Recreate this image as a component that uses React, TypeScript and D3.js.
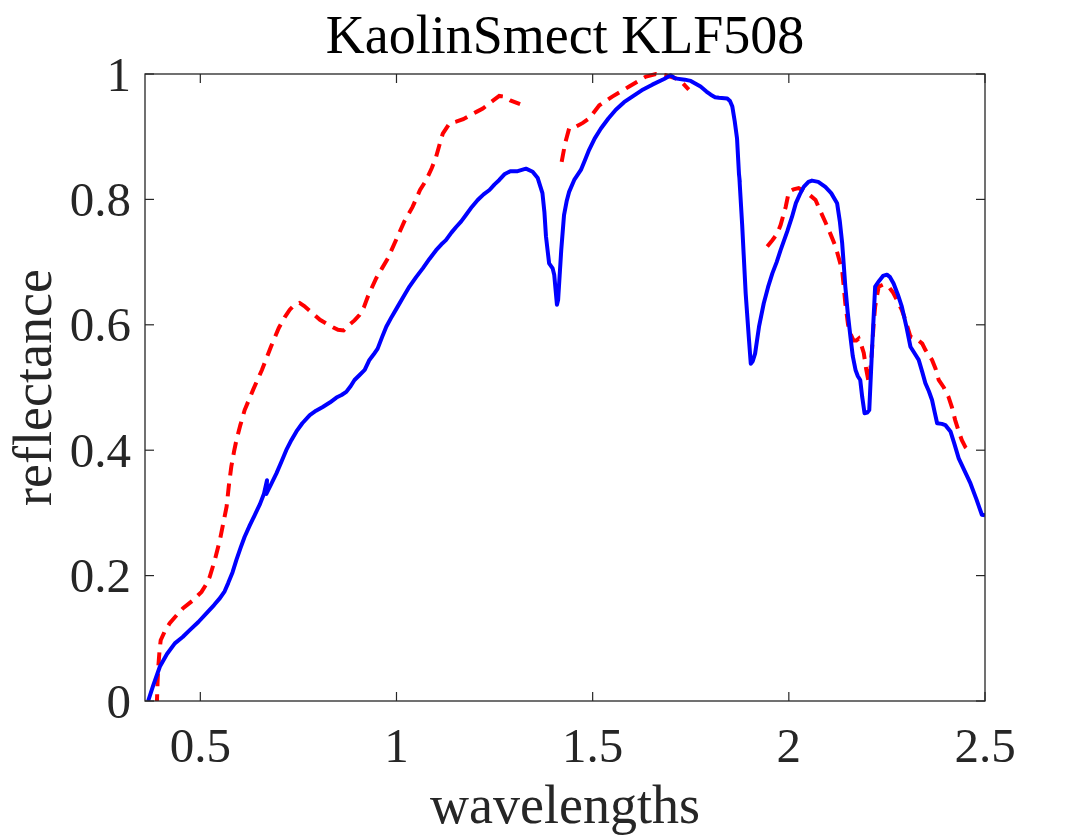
import React from 'react';
import * as d3 from 'd3';

const blueWl = [0.367,0.380,0.397,0.415,0.435,0.455,0.473,0.495,0.516,0.535,0.550,0.562,0.571,0.582,0.592,0.603,0.613,0.626,0.639,0.652,0.662,0.670,0.668,0.680,0.694,0.707,0.719,0.732,0.745,0.760,0.779,0.795,0.812,0.830,0.847,0.860,0.872,0.883,0.893,0.906,0.919,0.931,0.942,0.952,0.963,0.974,0.988,1.003,1.018,1.033,1.050,1.067,1.084,1.101,1.114,1.126,1.140,1.152,1.165,1.177,1.192,1.207,1.222,1.237,1.250,1.262,1.275,1.290,1.309,1.330,1.347,1.360,1.372,1.377,1.381,1.389,1.398,1.402,1.409,1.412,1.420,1.427,1.434,1.440,1.453,1.470,1.480,1.491,1.505,1.521,1.540,1.559,1.580,1.601,1.625,1.652,1.682,1.699,1.710,1.735,1.750,1.775,1.790,1.801,1.812,1.822,1.843,1.850,1.856,1.862,1.868,1.873,1.875,1.874,1.881,1.890,1.898,1.903,1.908,1.914,1.924,1.936,1.947,1.958,1.969,1.979,1.996,2.008,2.018,2.028,2.038,2.050,2.059,2.075,2.093,2.108,2.123,2.130,2.136,2.144,2.150,2.157,2.163,2.170,2.176,2.182,2.187,2.193,2.200,2.205,2.212,2.220,2.230,2.240,2.250,2.258,2.267,2.278,2.288,2.300,2.310,2.320,2.331,2.340,2.348,2.357,2.365,2.372,2.378,2.390,2.399,2.412,2.422,2.433,2.448,2.463,2.478,2.492,2.500];
const blueRefl = [0.0,0.025,0.055,0.075,0.092,0.102,0.113,0.126,0.140,0.153,0.164,0.175,0.188,0.205,0.225,0.245,0.262,0.280,0.297,0.314,0.330,0.352,0.330,0.345,0.363,0.382,0.400,0.416,0.430,0.443,0.456,0.463,0.469,0.476,0.484,0.488,0.493,0.502,0.512,0.520,0.528,0.544,0.553,0.562,0.580,0.597,0.613,0.629,0.645,0.661,0.676,0.690,0.705,0.719,0.728,0.735,0.747,0.756,0.765,0.775,0.788,0.799,0.808,0.815,0.824,0.831,0.840,0.845,0.845,0.849,0.844,0.834,0.810,0.780,0.741,0.698,0.690,0.680,0.632,0.640,0.720,0.775,0.798,0.812,0.831,0.847,0.862,0.879,0.897,0.913,0.929,0.943,0.955,0.964,0.974,0.983,0.992,0.998,0.993,0.991,0.989,0.980,0.972,0.967,0.963,0.962,0.961,0.957,0.948,0.925,0.897,0.840,0.828,0.834,0.760,0.650,0.580,0.538,0.542,0.554,0.597,0.634,0.660,0.682,0.700,0.719,0.749,0.772,0.794,0.808,0.820,0.828,0.830,0.828,0.820,0.810,0.794,0.765,0.730,0.661,0.620,0.581,0.550,0.528,0.518,0.512,0.485,0.459,0.460,0.464,0.560,0.661,0.670,0.678,0.680,0.676,0.666,0.648,0.629,0.596,0.565,0.555,0.544,0.525,0.507,0.494,0.480,0.460,0.443,0.442,0.440,0.430,0.410,0.387,0.367,0.347,0.322,0.297,0.296];

const redWl = [0.389,0.391,0.393,0.396,0.399,0.410,0.422,0.440,0.456,0.480,0.503,0.514,0.524,0.537,0.550,0.559,0.567,0.573,0.579,0.586,0.592,0.602,0.613,0.635,0.657,0.680,0.700,0.715,0.728,0.740,0.753,0.765,0.787,0.805,0.821,0.838,0.851,0.865,0.880,0.893,0.906,0.917,0.927,0.948,0.963,0.978,1.003,1.020,1.041,1.060,1.076,1.090,1.101,1.110,1.118,1.135,1.152,1.170,1.190,1.205,1.220,1.245,1.262,1.275,1.290,1.315,1.37,1.421,1.430,1.440,1.457,1.475,1.491,1.517,1.550,1.593,1.636,1.661,1.686,1.712,1.730,1.745,1.85,1.945,1.958,1.970,1.979,1.992,2.000,2.012,2.025,2.043,2.055,2.068,2.080,2.093,2.106,2.119,2.128,2.136,2.144,2.151,2.157,2.165,2.172,2.178,2.185,2.191,2.197,2.204,2.208,2.212,2.216,2.220,2.229,2.240,2.254,2.265,2.275,2.287,2.297,2.310,2.327,2.340,2.348,2.365,2.374,2.382,2.395,2.407,2.416,2.424,2.433,2.441,2.450,2.458];
const redRefl = [-0.01,0.030,0.055,0.080,0.097,0.112,0.124,0.137,0.148,0.160,0.174,0.185,0.198,0.225,0.257,0.285,0.310,0.345,0.374,0.398,0.416,0.440,0.464,0.497,0.528,0.565,0.595,0.612,0.624,0.632,0.635,0.630,0.618,0.608,0.602,0.596,0.592,0.591,0.600,0.607,0.616,0.628,0.645,0.674,0.690,0.706,0.741,0.765,0.788,0.815,0.831,0.850,0.868,0.888,0.905,0.921,0.924,0.928,0.935,0.940,0.945,0.957,0.965,0.964,0.958,0.952,null,0.860,0.890,0.913,0.916,0.922,0.929,0.950,0.964,0.980,0.996,1.000,0.998,0.993,0.985,0.975,null,0.725,0.735,0.745,0.759,0.788,0.812,0.816,0.818,0.812,0.806,0.799,0.782,0.764,0.745,0.725,0.705,0.687,0.634,0.600,0.586,0.575,0.575,0.578,0.567,0.555,0.530,0.507,0.530,0.560,0.600,0.629,0.661,0.664,0.661,0.652,0.640,0.625,0.608,0.581,0.577,0.570,0.560,0.544,0.530,0.512,0.500,0.485,0.468,0.448,0.430,0.416,0.405,0.400];

const xTicks = [0.5, 1, 1.5, 2, 2.5];
const xTickLabels = ['0.5', '1', '1.5', '2', '2.5'];
const yTicks = [0, 0.2, 0.4, 0.6, 0.8, 1];
const yTickLabels = ['0', '0.2', '0.4', '0.6', '0.8', '1'];

const titleText = 'KaolinSmect KLF508';
const xLabelText = 'wavelengths';
const yLabelText = 'reflectance';

export default function App() {
  const W = 1088, H = 836;
  const L = 145, R = 985, T = 74, B = 701;
  const x = d3.scaleLinear().domain([0.359, 2.5]).range([L, R]);
  const y = d3.scaleLinear().domain([0, 1]).range([B, T]);
  const line = d3
    .line<[number, number | null]>()
    .defined((d) => d[1] != null)
    .x((d) => x(d[0]))
    .y((d) => y(d[1] as number));
  const blue: [number, number | null][] = blueWl.map((w, i) => [w, blueRefl[i]]);
  const red: [number, number | null][] = redWl.map((w, i) => [w, redRefl[i]]);
  const font = '"Liberation Serif", "Times New Roman", serif';
  const axc = '#262626';
  const tl = 9;
  return (
    <svg width={W} height={H} style={{ position: 'absolute', left: 0, top: 0, background: '#fff' }} fontFamily={font}>
      <rect x={0} y={0} width={W} height={H} fill="#fff" />
      <defs>
        <clipPath id="plotclip">
          <rect x={L} y={T - 3} width={R - L} height={B - T + 3} />
        </clipPath>
      </defs>
      <g clipPath="url(#plotclip)">
        <path d={line(red) || ''} fill="none" stroke="#ff0000" strokeWidth={4} strokeDasharray="13,8" />
        <path d={line(blue) || ''} fill="none" stroke="#0000ff" strokeWidth={4} strokeLinejoin="round" />
      </g>
      <rect x={L} y={T} width={R - L} height={B - T} fill="none" stroke={axc} strokeWidth={1.3} />
      {xTicks.map((t, i) => (
        <g key={'xt' + i}>
          <line x1={x(t)} x2={x(t)} y1={B} y2={B - tl} stroke={axc} strokeWidth={1.2} />
          <line x1={x(t)} x2={x(t)} y1={T} y2={T + tl} stroke={axc} strokeWidth={1.2} />
          <text x={x(t)} y={762} textAnchor="middle" fontSize={49} fill={axc}>
            {xTickLabels[i]}
          </text>
        </g>
      ))}
      {yTicks.map((t, i) => (
        <g key={'yt' + i}>
          <line x1={L} x2={L + tl} y1={y(t)} y2={y(t)} stroke={axc} strokeWidth={1.2} />
          <line x1={R} x2={R - tl} y1={y(t)} y2={y(t)} stroke={axc} strokeWidth={1.2} />
          <text x={L - 14} y={y(t)} dy="0.34em" textAnchor="end" fontSize={49} fill={axc}>
            {yTickLabels[i]}
          </text>
        </g>
      ))}
      <text x={(L + R) / 2} y={53} textAnchor="middle" fontSize={54} fill="#000">
        {titleText}
      </text>
      <text x={(L + R) / 2} y={823} textAnchor="middle" fontSize={54} fill={axc}>
        {xLabelText}
      </text>
      <text transform={`translate(51, ${(T + B) / 2}) rotate(-90)`} textAnchor="middle" fontSize={54} fill={axc}>
        {yLabelText}
      </text>
    </svg>
  );
}
